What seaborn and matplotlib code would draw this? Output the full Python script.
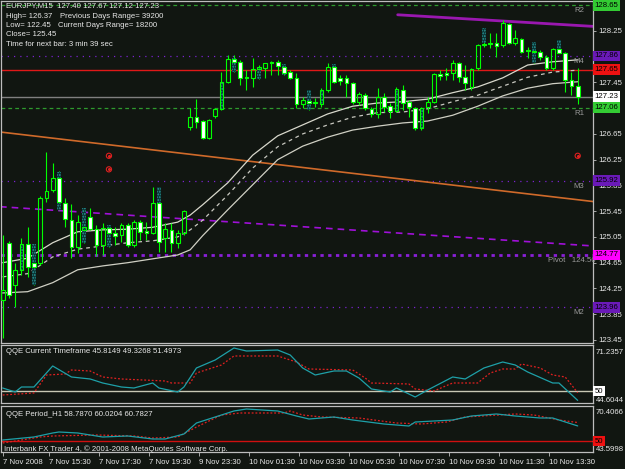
import matplotlib
matplotlib.use("Agg")
import matplotlib.pyplot as plt
import seaborn as sns
import numpy as np
import pandas as pd

# ---------------- data ----------------
bar_index = list(range(93))
opens = [124.07, 124.96, 124.30, 124.54, 124.94, 124.65, 124.65, 125.66, 125.78, 125.97,
         125.58, 125.31, 124.89, 125.16, 125.36, 125.17, 124.93, 125.19, 125.11, 125.08,
         125.24, 124.93, 125.28, 125.14, 125.11, 125.58, 125.03, 125.16, 124.96, 125.11,
         126.76, 126.91, 126.85, 126.59, 126.93, 127.04, 127.46, 127.81, 127.77, 127.53,
         127.52, 127.66, 127.67, 127.77, 127.77, 127.69, 127.61, 127.52, 127.11, 127.16,
         127.15, 127.11, 127.33, 127.69, 127.52, 127.52, 127.44, 127.15, 127.25, 127.04,
         126.96, 127.22, 127.08, 127.01, 127.33, 127.15, 127.05, 126.74, 127.07, 127.15,
         127.58, 127.60, 127.60, 127.75, 127.53, 127.38, 127.67, 128.05, 128.06, 128.06,
         128.03, 128.36, 128.06, 128.12, 127.95, 127.92, 127.92, 127.84, 127.67, 127.97,
         127.91, 127.49, 127.40]
highs = [125.08, 124.99, 124.65, 125.03, 125.20, 124.94, 125.69, 126.37, 126.20, 126.07,
         125.66, 125.56, 125.39, 125.50, 125.50, 125.24, 125.27, 125.24, 125.20, 125.27,
         125.27, 125.31, 125.31, 125.28, 125.83, 125.83, 125.27, 125.27, 125.16, 125.47,
         127.05, 127.19, 126.87, 126.88, 127.05, 127.61, 127.88, 127.88, 127.80, 127.64,
         127.83, 127.72, 127.75, 127.78, 127.80, 127.74, 127.64, 127.60, 127.22, 127.33,
         127.21, 127.36, 127.75, 127.74, 127.57, 127.57, 127.46, 127.30, 127.29, 127.07,
         127.36, 127.29, 127.13, 127.38, 127.41, 127.18, 127.07, 127.07, 127.22, 127.60,
         127.64, 127.67, 127.80, 127.77, 127.72, 127.67, 128.05, 128.30, 128.22, 128.22,
         128.42, 128.37, 128.26, 128.14, 128.00, 128.08, 127.95, 127.88, 127.98, 128.11,
         127.92, 127.61, 127.67]
lows = [123.48, 124.10, 123.96, 124.46, 124.43, 124.30, 124.61, 125.59, 125.75, 125.47,
        125.20, 124.72, 124.80, 124.96, 125.16, 124.75, 124.77, 124.89, 124.93, 124.97,
        124.89, 124.89, 125.00, 125.00, 125.10, 124.82, 124.82, 124.82, 124.88, 125.08,
        126.71, 126.74, 126.57, 126.57, 126.90, 127.02, 127.44, 127.61, 127.41, 127.33,
        127.38, 127.50, 127.52, 127.57, 127.57, 127.57, 127.50, 127.05, 127.05, 127.02,
        127.07, 127.07, 127.30, 127.44, 127.41, 127.22, 127.11, 127.10, 127.02, 126.91,
        126.90, 126.99, 126.90, 126.99, 127.02, 126.91, 126.71, 126.71, 126.98, 127.13,
        127.49, 127.49, 127.49, 127.46, 127.33, 127.33, 127.64, 128.00, 127.98, 127.84,
        128.00, 128.05, 128.03, 127.91, 127.83, 127.75, 127.80, 127.64, 127.64, 127.91,
        127.30, 127.25, 127.12]
closes = [124.22, 124.15, 124.54, 124.94, 124.58, 124.58, 125.66, 125.76, 125.97, 125.59,
          125.33, 124.89, 125.28, 125.20, 125.17, 124.93, 125.19, 125.11, 125.07, 125.24,
          124.93, 125.28, 125.13, 125.11, 125.58, 124.97, 125.17, 124.96, 125.11, 125.45,
          126.91, 126.84, 126.59, 126.87, 127.04, 127.46, 127.81, 127.77, 127.52, 127.52,
          127.66, 127.69, 127.75, 127.75, 127.71, 127.60, 127.52, 127.11, 127.18, 127.13,
          127.13, 127.33, 127.69, 127.46, 127.47, 127.44, 127.15, 127.27, 127.05, 126.96,
          127.22, 127.07, 127.01, 127.35, 127.13, 127.07, 126.74, 127.05, 127.15, 127.58,
          127.55, 127.57, 127.75, 127.53, 127.44, 127.66, 128.03, 128.03, 128.05, 128.02,
          128.37, 128.06, 128.14, 127.92, 127.94, 127.94, 127.84, 127.67, 127.97, 127.91,
          127.49, 127.40, 127.23]

# teal dotted overlay bars
teal_bars = [3, 5, 9, 13, 17, 25, 35, 37, 41, 45, 49, 51, 53, 63, 67, 77, 85, 89]
teal_top = [124.94, 124.94, 126.06, 125.50, 125.24, 125.83, 127.46, 127.83, 127.67, 127.74,
            127.33, 127.33, 127.74, 127.35, 127.05, 128.30, 128.08, 128.11]
teal_bottom = [124.54, 124.30, 125.47, 124.96, 124.89, 125.00, 127.04, 127.61, 127.50, 127.57,
               127.02, 127.11, 127.53, 127.01, 126.74, 128.06, 127.75, 127.92]

# moving-average envelope
ma_bars = [0, 4, 8, 12, 16, 20, 24, 28, 30, 32, 36, 40, 44, 48, 52, 56, 60, 64, 68, 72, 76, 80, 84, 88, 92]
ma_upper = [124.65, 124.72, 124.96, 125.13, 125.16, 125.17, 125.20, 125.28, 125.39, 125.55, 125.89,
            126.32, 126.62, 126.79, 126.96, 127.08, 127.13, 127.15, 127.19, 127.29, 127.38, 127.52,
            127.72, 127.77, 127.80]
ma_middle = [124.43, 124.48, 124.74, 124.86, 124.91, 124.96, 124.99, 125.05, 125.16, 125.31, 125.70,
             126.12, 126.45, 126.65, 126.79, 126.91, 126.98, 126.99, 127.04, 127.15, 127.25, 127.39,
             127.53, 127.61, 127.64]
ma_lower = [124.18, 124.20, 124.34, 124.54, 124.60, 124.65, 124.71, 124.77, 124.85, 125.07, 125.47,
            125.86, 126.25, 126.46, 126.60, 126.71, 126.77, 126.82, 126.85, 126.94, 127.08, 127.24,
            127.36, 127.43, 127.46]

# trend lines (bar, price) endpoints
trend_orange_bars = [-0.43, 94.45]
trend_orange_prices = [126.68, 125.60]
trend_purple_bars = [63.2, 94.45]
trend_purple_prices = [128.50, 128.32]
trend_violet_bars = [-0.43, 94.45]
trend_violet_prices = [125.52, 124.91]

# horizontal levels
level_names = ["R2", "M4", "R1", "M3", "Pivot", "M2"]
level_values = [128.65, 127.86, 127.06, 125.92, 124.77, 123.96]
red_level = 127.65
bid_price = 127.23

# signal circles
signal_bars = [17, 17, 92]
signal_prices = [126.31, 126.10, 126.31]

price_ticks = [128.25, 127.85, 127.45, 127.05, 126.65, 126.25, 125.85, 125.45,
               125.05, 124.65, 124.25, 123.85, 123.45]
price_tick_labels = ["128.25", "", "127.45", "", "126.65", "126.25", "125.85", "125.45",
                     "125.05", "124.65", "124.25", "123.85", "123.45"]

# QQE current timeframe
qqe1_bars = [0, 2, 3, 5, 8, 11, 14, 16, 19, 21, 24, 25, 28, 29, 31, 34, 37, 39, 44, 46, 48, 50,
             53, 55, 57, 59, 62, 63, 66, 68, 72, 74, 77, 80, 82, 84, 88, 89, 92]
qqe1_rsi = [51.49, 49.66, 51.95, 51.95, 61.60, 56.55, 55.63, 53.79, 51.95, 51.49, 53.79, 51.49,
            49.66, 51.95, 60.68, 64.35, 69.86, 68.48, 68.94, 66.65, 60.68, 57.46, 59.30, 59.30,
            56.09, 51.04, 49.66, 51.49, 47.36, 50.58, 56.55, 55.63, 60.68, 63.43, 62.06, 58.84,
            53.79, 53.79, 45.81]
qqe1_trail_bars = [0, 5, 7, 10, 11, 14, 16, 19, 26, 27, 30, 31, 35, 37, 44, 47, 49, 56, 58, 59,
                   65, 66, 69, 72, 76, 78, 80, 82, 83, 86, 88, 90, 92]
qqe1_trail = [48.28, 49.20, 57.46, 57.92, 59.76, 59.30, 56.55, 55.63, 54.71, 53.79, 53.79, 58.38,
              62.06, 66.19, 66.19, 63.43, 60.22, 59.76, 56.09, 53.79, 53.33, 51.04, 50.12, 53.79,
              53.79, 58.38, 60.22, 60.22, 62.51, 60.68, 57.46, 56.55, 49.33]

# QQE Period_H1
qqe2_bars = [0, 5, 8, 9, 12, 16, 20, 24, 26, 29, 31, 34, 37, 39, 44, 47, 49, 53, 56, 61, 65, 66,
             72, 75, 79, 82, 86, 88, 92]
qqe2_rsi = [50.59, 52.34, 54.68, 55.26, 54.68, 52.34, 52.93, 51.18, 51.18, 54.09, 60.50, 64.00,
            67.50, 68.66, 67.50, 64.58, 62.83, 64.00, 62.25, 59.92, 58.75, 61.08, 62.25, 64.58,
            65.75, 64.58, 63.42, 63.42, 58.79]
qqe2_trail_bars = [0, 6, 8, 15, 21, 24, 28, 31, 35, 38, 45, 46, 48, 51, 57, 63, 67, 71, 74, 82,
                   85, 89, 92]
qqe2_trail = [48.85, 52.34, 52.93, 53.51, 52.93, 51.76, 52.34, 58.17, 65.16, 66.33, 66.33, 67.50,
              65.16, 64.00, 63.42, 60.50, 59.92, 61.08, 64.00, 65.75, 65.16, 62.25, 60.78]

time_tick_bars = [0.0, 7.4, 15.4, 23.4, 31.4, 39.4, 47.4, 55.4, 63.4, 71.4, 79.4, 87.4]
time_labels = ["7 Nov 2008", "7 Nov 15:30", "7 Nov 17:30", "7 Nov 19:30", "9 Nov 23:30",
               "10 Nov 01:30", "10 Nov 03:30", "10 Nov 05:30", "10 Nov 07:30", "10 Nov 09:30",
               "10 Nov 11:30", "10 Nov 13:30"]

# ---------------- style ----------------
sns.set_style("dark")
BG = "#111611"
FG = "#e8e8e8"
GREEN = "#00ff00"
FS = 5.6
plt.rcParams.update({
    "figure.facecolor": BG, "axes.facecolor": BG, "savefig.facecolor": BG,
    "axes.edgecolor": "#b8b8b8", "axes.grid": False,
    "xtick.color": "#c0c0c0", "ytick.color": "#c0c0c0",
    "hatch.linewidth": 0.9, "hatch.color": "#2a9a9a",
})
plt.rcParams["font.family"] = ["Liberation Sans", "DejaVu Sans"]

W, H = 625, 469
fig = plt.figure(figsize=(W / 100, H / 100), dpi=100)


def rect(x0, y0, x1, y1):
    return [x0 / W, 1 - y1 / H, (x1 - x0) / W, (y1 - y0) / H]


ax = fig.add_axes(rect(1, 1, 593, 343))
ax1 = fig.add_axes(rect(1, 345, 593, 403))
ax2 = fig.add_axes(rect(1, 406, 593, 452))
XL = (-0.27, 94.45)
for a in (ax, ax1, ax2):
    a.set_xlim(*XL)
    for s in a.spines.values():
        s.set_color("#bdbdbd")
        s.set_linewidth(0.9)
    a.tick_params(axis="x", bottom=False, labelbottom=False)
    a.yaxis.tick_right()
    a.tick_params(axis="y", length=2, width=0.6, labelsize=FS, labelcolor=FG, pad=1.8)

# ---------------- main price panel ----------------
ax.set_ylim(123.403, 128.714)
ax.set_yticks(price_ticks)
ax.set_yticklabels(price_tick_labels)

# horizontal levels
ax.axhline(level_values[0], color="#2e9a2e", lw=0.9, dashes=(3, 2.5), zorder=1)
ax.axhline(level_values[2], color="#2e9a2e", lw=0.9, dashes=(3, 2.5), zorder=1)
for v in (level_values[1], level_values[3], level_values[5]):
    ax.axhline(v, color="#7a22d0", lw=0.9, dashes=(1, 4), zorder=1)
ax.axhline(level_values[4], color="#8a1fd8", lw=2.0, dashes=(1.2, 1.6), zorder=1)
ax.axhline(red_level, color="#e01818", lw=1.0, zorder=1)
ax.axhline(bid_price, color="#808080", lw=1.0, zorder=1)

# trend lines
sns.lineplot(x=trend_orange_bars, y=trend_orange_prices, ax=ax, color="#d06a2a", lw=1.2, zorder=1)
sns.lineplot(x=trend_purple_bars, y=trend_purple_prices, ax=ax, color="#9a18b0", lw=2.0, zorder=1)
sns.lineplot(x=trend_violet_bars, y=trend_violet_prices, ax=ax, color="#a010d8", lw=1.2,
             linestyle=(0, (4, 3)), zorder=1)

# MA envelope
sns.lineplot(x=ma_bars, y=ma_upper, ax=ax, color="#d8d8cc", lw=0.9, zorder=2)
sns.lineplot(x=ma_bars, y=ma_middle, ax=ax, color="#c8c8c0", lw=0.9, linestyle=(0, (3, 3)), zorder=2)
sns.lineplot(x=ma_bars, y=ma_lower, ax=ax, color="#d0d0c4", lw=0.9, zorder=2)

# candles
xb = np.array(bar_index, dtype=float)
o = np.array(opens); hh = np.array(highs); ll = np.array(lows); cc = np.array(closes)
top = np.maximum(o, cc)
bot = np.minimum(o, cc)
bear = cc < o
ax.vlines(xb, top, hh, color=GREEN, lw=0.8, zorder=3)
ax.vlines(xb, ll, bot, color=GREEN, lw=0.8, zorder=3)
tb = np.array(teal_bars, dtype=float)
ax.bar(tb, np.array(teal_top) - np.array(teal_bottom), bottom=teal_bottom, width=0.6,
       facecolor="#0b3434", edgecolor="#2a9a9a", hatch="......", linewidth=0, zorder=3)
body_h = np.maximum(top - bot, 0.008)
fills = ["#ffffff" if b else "none" for b in bear]
ax.bar(xb, body_h, bottom=bot, width=0.62, color=fills, edgecolor=GREEN, linewidth=0.8, zorder=4)

# signal circles
ax.scatter(signal_bars, signal_prices, s=14, facecolors="none", edgecolors="#e02020", linewidths=0.8, zorder=5)
ax.scatter(signal_bars, signal_prices, s=1.5, color="#e02020", zorder=5)

# level names
for name, v in zip(level_names, level_values):
    if name == "Pivot":
        t = ax.annotate("Pivot   124.56", xy=(0.924, v), xycoords=("axes fraction", "data"),
                        xytext=(0, -1.5), textcoords="offset points", ha="left", va="top",
                        color="#9a9a9a", fontsize=FS, annotation_clip=False)
        t.set_clip_on(True)
    else:
        ax.annotate(name, xy=(0.985, v), xycoords=("axes fraction", "data"),
                    xytext=(0, -1.5), textcoords="offset points", ha="right", va="top",
                    color="#9a9a9a", fontsize=FS)

# price boxes on the right axis
boxes = [(level_values[0], "#33cc33"), (level_values[1], "#6a1ab8"), (red_level, "#ee1111"),
         (bid_price, "#ffffff"), (level_values[2], "#33cc33"), (level_values[3], "#6a1ab8"),
         (level_values[4], "#ff00ff"), (level_values[5], "#6a1ab8")]
for v, col in boxes:
    ax.text(1.0025, v, f"{v:.2f}", transform=ax.get_yaxis_transform(), ha="left", va="center",
            fontsize=FS, color="#000000", zorder=20, clip_on=False,
            bbox=dict(boxstyle="square,pad=0.25", facecolor=col, edgecolor="none"))

# ---------------- QQE panels ----------------
ax1.set_ylim(44.6044, 71.2357)
ax1.set_yticks([])
ax1.axhline(50, color="#c8c8b4", lw=1.0, zorder=1)
sns.lineplot(x=qqe1_trail_bars, y=qqe1_trail, ax=ax1, color="#e02020", lw=0.9, linestyle=(0, (1.5, 1.5)))
sns.lineplot(x=qqe1_bars, y=qqe1_rsi, ax=ax1, color="#1ea0a8", lw=0.9)
ax1.text(0.008, 0.88, "QQE Current Timeframe 45.8149 49.3268 51.4973", transform=ax1.transAxes,
         ha="left", va="center", color=FG, fontsize=FS)

ax2.set_ylim(43.5998, 70.4066)
ax2.set_yticks([])
ax2.axhline(50, color="#d01010", lw=1.0, zorder=1)
sns.lineplot(x=qqe2_trail_bars, y=qqe2_trail, ax=ax2, color="#e02020", lw=0.9, linestyle=(0, (1.5, 1.5)))
sns.lineplot(x=qqe2_bars, y=qqe2_rsi, ax=ax2, color="#1ea0a8", lw=0.9)
ax2.text(0.008, 0.82, "QQE Period_H1 58.7870 60.0204 60.7827", transform=ax2.transAxes,
         ha="left", va="center", color=FG, fontsize=FS)

for a in (ax, ax1, ax2):
    a.set_xlabel("")
    a.set_ylabel("")
    if a.get_legend() is not None:
        a.get_legend().remove()


def ftext(px, py, s, **kw):
    fig.text(px / W, 1 - py / H, s, fontsize=FS, color=kw.pop("color", FG), va="center", **kw)


ftext(596, 352, "71.2357")
ftext(596, 400, "44.6044")
ftext(596, 412, "70.4066")
ftext(596, 449, "43.5998")
ax1.text(1.0025, 50, "50", transform=ax1.get_yaxis_transform(), ha="left", va="center",
         fontsize=FS, color="#000000", clip_on=False,
         bbox=dict(boxstyle="square,pad=0.2", facecolor="#ffffff", edgecolor="none"))
ax2.text(1.0025, 50, "50", transform=ax2.get_yaxis_transform(), ha="left", va="center",
         fontsize=FS, color="#000000", clip_on=False,
         bbox=dict(boxstyle="square,pad=0.2", facecolor="#ee1111", edgecolor="none"))

# time axis
ax2.set_xticks(time_tick_bars)
ax2.set_xticklabels(time_labels)
ax2.tick_params(axis="x", bottom=True, labelbottom=True, length=3, width=0.6, labelsize=FS,
                labelcolor=FG, pad=2)
for lab in ax2.get_xticklabels():
    lab.set_ha("left")

# header and footer text
ftext(6, 6, "EURJPY,M15  127.40 127.67 127.12 127.23")
ftext(6, 16, "High= 126.37")
ftext(60, 16, "Previous Days Range= 39200")
ftext(6, 25.5, "Low= 122.45")
ftext(58, 25.5, "Current Days Range= 18200")
ftext(6, 34.5, "Close= 125.45")
ftext(6, 44, "Time for next bar: 3 min 39 sec")
ftext(4, 449, "Interbank FX Trader 4, \u00a9 2001-2008 MetaQuotes Software Corp.")

fig.savefig("out.png", dpi=100, facecolor=BG)
